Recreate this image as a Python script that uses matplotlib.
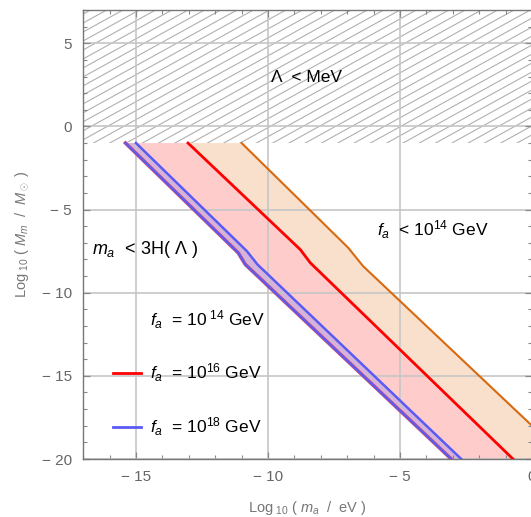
import numpy as np
import matplotlib
matplotlib.use("Agg")
import matplotlib.pyplot as plt
from matplotlib.lines import Line2D
from matplotlib.ticker import MultipleLocator, FixedLocator

plt.rcParams['font.family'] = ['Liberation Sans', 'DejaVu Sans']
plt.rcParams['mathtext.fontset'] = 'custom'
plt.rcParams['mathtext.rm'] = 'Liberation Sans'
plt.rcParams['mathtext.it'] = 'Liberation Sans:italic'

# boundary curves, (log10 m_a, log10 M_m)
blue_outer_x = [-15.4, -11.13, -10.86, -3.06]
blue_outer_y = [-1.0, -7.6, -8.3, -20.0]
blue_inner_x = [-15.0, -10.8, -10.4, -2.68]
blue_inner_y = [-1.0, -7.5, -8.3, -20.0]
red_x = [-13.03, -8.78, -8.4, -0.72]
red_y = [-1.0, -7.4, -8.2, -20.0]
orange_x = [-11.0, -6.96, -6.4, 0.0, 1.33]
orange_y = [-1.0, -7.3, -8.4, -18.0, -20.0]

lambda_cut = -1.0   # hatched region above this
xlim = (-17, 0)
ylim = (-20, 7)

xticks = [-15, -10, -5, 0]
yticks = [5, 0, -5, -10, -15, -20]

fig = plt.figure(figsize=(5.31, 5.17), dpi=100)
ax = fig.add_axes([83.2 / 531, 58 / 517, 448.8 / 531, 449 / 517])
ax.set_xlim(*xlim)
ax.set_ylim(*ylim)


def band(xl, yl, xr, yr, color):
    px = list(xl) + list(xr)[::-1]
    py = list(yl) + list(yr)[::-1]
    ax.fill(px, py, color=color, lw=0, zorder=1)


band(red_x, red_y, orange_x, orange_y, '#f9e0cc')
band(blue_outer_x, blue_outer_y, red_x, red_y, '#ffcccc')
band(blue_outer_x, blue_outer_y, blue_inner_x, blue_inner_y, '#d6b3da')

ax.plot(orange_x, orange_y, color='#d9690f', lw=1.5, zorder=3)
ax.plot(red_x, red_y, color='#ff0000', lw=2.0, zorder=3)
ax.plot(blue_outer_x, blue_outer_y, color='#d05070', lw=2.6, zorder=2.9)
ax.plot(blue_outer_x, blue_outer_y, color='#5a5af5', lw=1.6, zorder=3)
ax.plot(blue_inner_x, blue_inner_y, color='#5a5af5', lw=1.8, zorder=3)

# hatching of the Lambda < MeV region
slope = 0.875
spacing = 0.54
rect = plt.Rectangle((xlim[0], lambda_cut), xlim[1] - xlim[0], ylim[1] - lambda_cut,
                     transform=ax.transData, fc='none', ec='none')
ax.add_patch(rect)
hx = np.array([xlim[0], xlim[1]])
for y0 in np.arange(lambda_cut - 16, ylim[1] + 0.5, spacing):
    ln, = ax.plot(hx, y0 + slope * (hx - xlim[0]), color='#b0b0b0', lw=0.8, zorder=0.9)
    ln.set_clip_path(rect)

ax.set_axisbelow('line')
ax.xaxis.set_major_locator(FixedLocator(xticks))
ax.yaxis.set_major_locator(FixedLocator(yticks))
ax.xaxis.set_minor_locator(MultipleLocator(1))
ax.yaxis.set_minor_locator(MultipleLocator(1))
ax.grid(True, which='major', color='#c6c6c6', lw=1.2)


def fmt(v):
    return ('\u2212 %d' % -v) if v < 0 else '%d' % v


ax.set_xticklabels([fmt(v) for v in xticks])
ax.set_yticklabels([fmt(v) for v in yticks])
ax.tick_params(which='both', direction='in', top=True, right=True,
               color='#888888', labelcolor='#666666', labelsize=11)
ax.tick_params(which='major', length=5, width=0.9, pad=8)
ax.tick_params(which='minor', length=3, width=0.8)
for s in ax.spines.values():
    s.set_color('#777777')
    s.set_linewidth(1.0)

ax.set_xlabel(r'Log$_{\ 10}$ ( $m_a$  /  eV )', color='#777777', fontsize=10.5, labelpad=11)
ax.set_ylabel(r'Log$_{\ 10}$ ( $M_m$  /  $M_\odot$ )', color='#777777', fontsize=10.5, labelpad=8)

ax.text(-9.9, 2.95, '\u039b  < MeV', fontsize=12.5, ha='left', va='center', zorder=4)
ax.text(-16.66, -7.4, r'$m_a$  < 3H( $\Lambda$ )', fontsize=13, ha='left', va='center', zorder=4)
ax.text(-5.87, -6.2, r'$f_a$  < 10$^{14}$ GeV', fontsize=12.5, ha='left', va='center', zorder=4)

handles = [Line2D([], [], color='none'),
           Line2D([], [], color='#ff0000', lw=2),
           Line2D([], [], color='#5a5af5', lw=2)]
labels = [r'$f_a$  = 10$^{\ 14}$ GeV', r'$f_a$  = 10$^{16}$ GeV', r'$f_a$  = 10$^{18}$ GeV']
ax.legend(handles, labels, loc='upper left', bbox_to_anchor=((113 - 83.2) / 448.8, (459 - 308) / 449),
          frameon=False, borderpad=0, borderaxespad=0, handlelength=1.6, handletextpad=0.55,
          labelspacing=1.8, fontsize=12.5)

fig.savefig('out.png', dpi=100)
